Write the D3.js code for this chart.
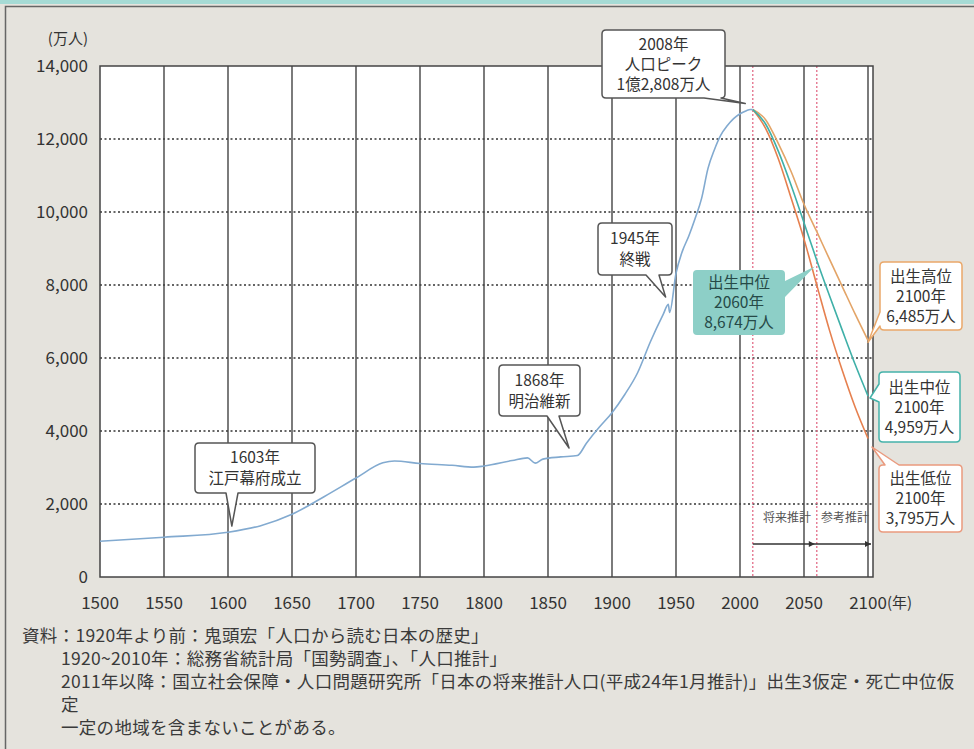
<!DOCTYPE html>
<html>
<head>
<meta charset="utf-8">
<script src="https://cdn.jsdelivr.net/npm/d3@7"></script>
<style>
  body { margin: 0; background: #e5e3dd; }
  svg { display: block; }
  text { font-family: "Noto Sans CJK JP", "Noto Sans", sans-serif; fill: #333; }
</style>
</head>
<body>
<div id="chart"></div>
<script>
// population (万人), historical
var histYears = [1500, 1550, 1600, 1625, 1650, 1675, 1700, 1721, 1730, 1750, 1775, 1792, 1800, 1822, 1834, 1840, 1846, 1860, 1873, 1880, 1890, 1900, 1910, 1920, 1930, 1940, 1944, 1945, 1950, 1955, 1960, 1965, 1970, 1975, 1980, 1985, 1990, 1995, 2000, 2005, 2008, 2010];
var histPop = [980, 1090, 1227, 1400, 1718, 2200, 2712, 3128, 3180, 3110, 3060, 3010, 3040, 3190, 3263, 3120, 3230, 3290, 3330, 3665, 4100, 4500, 5000, 5596, 6445, 7193, 7470, 7250, 8320, 8928, 9342, 9828, 10372, 11194, 11706, 12105, 12361, 12557, 12693, 12777, 12808, 12806];

// projections (万人)
var projYears = [2010, 2020, 2030, 2040, 2050, 2060, 2070, 2080, 2090, 2100];
var projHigh = [12806, 12530, 11872, 11104, 10213, 9460, 8700, 7950, 7200, 6485];
var projMid = [12806, 12410, 11662, 10728, 9708, 8674, 7700, 6750, 5820, 4959];
var projLow = [12806, 12290, 11450, 10376, 9257, 7997, 6750, 5650, 4650, 3795];

var xTicks = [1500, 1550, 1600, 1650, 1700, 1750, 1800, 1850, 1900, 1950, 2000, 2050, 2100];
var yTicks = [0, 2000, 4000, 6000, 8000, 10000, 12000, 14000];
var markYears = [2010, 2060];

var notes = [
  '資料：1920年より前：鬼頭宏「人口から読む日本の歴史」',
  '1920~2010年：総務省統計局「国勢調査」、「人口推計」',
  '2011年以降：国立社会保障・人口問題研究所「日本の将来推計人口(平成24年1月推計)」出生3仮定・死亡中位仮',
  '定',
  '一定の地域を含まないことがある。'
];

var svgWidth = 974;
var svgHeight = 749;

var svg = d3.select('#chart')
    .append('svg')
    .attr('width', svgWidth)
    .attr('height', svgHeight);

// frame
svg.append('rect').attr('x', 0).attr('y', 0).attr('width', svgWidth).attr('height', 4).attr('fill', '#a6dbd5');
svg.append('path')
    .attr('d', 'M5.5,' + svgHeight + ' V6.5 H' + svgWidth)
    .attr('fill', 'none').attr('stroke', '#666').attr('stroke-width', 1.5);

var x = d3.scaleLinear().domain([1500, 2100]).range([100, 868]);
var y = d3.scaleLinear().domain([0, 14000]).range([577, 66]);
var plotRight = 873;

// plot background
svg.append('rect')
    .attr('x', 100).attr('y', 66)
    .attr('width', plotRight - 100).attr('height', 577 - 66)
    .attr('fill', '#fff');

// horizontal dotted grid
svg.append('g').selectAll('line')
    .data(yTicks.filter(d => d > 0 && d < 14000))
    .enter().append('line')
    .attr('x1', 100).attr('x2', plotRight)
    .attr('y1', d => y(d)).attr('y2', d => y(d))
    .attr('stroke', '#333').attr('stroke-width', 1.3)
    .attr('stroke-dasharray', '2,2.5');

// vertical grid
svg.append('g').selectAll('line')
    .data(xTicks.filter(d => d > 1500))
    .enter().append('line')
    .attr('x1', d => x(d)).attr('x2', d => x(d))
    .attr('y1', 66).attr('y2', 577)
    .attr('stroke', '#444').attr('stroke-width', 1.4);

// red dotted projection markers
svg.append('g').selectAll('line')
    .data(markYears)
    .enter().append('line')
    .attr('x1', d => x(d)).attr('x2', d => x(d))
    .attr('y1', 66).attr('y2', 577)
    .attr('stroke', '#e0607e').attr('stroke-width', 1.2)
    .attr('stroke-dasharray', '2,2');

// plot border
svg.append('rect')
    .attr('x', 100).attr('y', 66)
    .attr('width', plotRight - 100).attr('height', 577 - 66)
    .attr('fill', 'none').attr('stroke', '#444').attr('stroke-width', 1.5);

// axes labels
svg.append('g').selectAll('text')
    .data(yTicks)
    .enter().append('text')
    .attr('x', 88).attr('y', d => y(d) + 6)
    .attr('text-anchor', 'end')
    .style('font-size', '17px')
    .text(d => d3.format(',')(d));

svg.append('text').attr('x', 88).attr('y', 44).attr('text-anchor', 'end')
    .style('font-size', '15px').text('(万人)');

svg.append('g').selectAll('text')
    .data(xTicks)
    .enter().append('text')
    .attr('x', d => x(d)).attr('y', 609)
    .attr('text-anchor', 'middle')
    .style('font-size', '17px')
    .text(d => d);

svg.append('text').attr('x', 887).attr('y', 608)
    .style('font-size', '15px').text('(年)');

// lines
var line = d3.line()
    .x(d => x(d[0]))
    .y(d => y(d[1]))
    .curve(d3.curveMonotoneX);

var series = [
  { years: projYears, vals: projLow, color: '#e6804f' },
  { years: projYears, vals: projHigh, color: '#e3a467' },
  { years: projYears, vals: projMid, color: '#3fb0a8' },
  { years: histYears, vals: histPop, color: '#82aad0' }
];

series.forEach(function(s) {
    svg.append('path')
        .datum(s.years.map((yr, i) => [yr, s.vals[i]]))
        .attr('d', line)
        .attr('fill', 'none')
        .attr('stroke', s.color)
        .attr('stroke-width', 1.6);
});

// projection span arrows
var arrowY = 544;
svg.append('line')
    .attr('x1', x(2010)).attr('x2', plotRight - 2)
    .attr('y1', arrowY).attr('y2', arrowY)
    .attr('stroke', '#333').attr('stroke-width', 1.3);
[x(2060) - 2, plotRight - 2].forEach(function(px) {
    svg.append('path')
        .attr('d', 'M' + (px - 6) + ',' + (arrowY - 3) + ' L' + px + ',' + arrowY + ' L' + (px - 6) + ',' + (arrowY + 3) + 'Z')
        .attr('fill', '#333');
});
svg.append('text').attr('x', 787).attr('y', 522).attr('text-anchor', 'middle')
    .style('font-size', '12px').style('fill', '#555').text('将来推計');
svg.append('text').attr('x', 845).attr('y', 522).attr('text-anchor', 'middle')
    .style('font-size', '12px').style('fill', '#555').text('参考推計');

// callouts
function callout(o) {
    var bx = o.x, by = o.y, w = o.w, h = o.h, r = 4;
    var p = o.ptr;
    var d = 'M' + (bx + r) + ',' + by;
    if (p.side === 'top') d += ' H' + p.a + ' L' + p.tx + ',' + p.ty + ' L' + p.b + ',' + by;
    d += ' H' + (bx + w - r) + ' Q' + (bx + w) + ',' + by + ' ' + (bx + w) + ',' + (by + r);
    if (p.side === 'right') d += ' V' + p.a + ' L' + p.tx + ',' + p.ty + ' L' + (bx + w) + ',' + p.b;
    d += ' V' + (by + h - r) + ' Q' + (bx + w) + ',' + (by + h) + ' ' + (bx + w - r) + ',' + (by + h);
    if (p.side === 'bottom') d += ' H' + p.b + ' L' + p.tx + ',' + p.ty + ' L' + p.a + ',' + (by + h);
    d += ' H' + (bx + r) + ' Q' + bx + ',' + (by + h) + ' ' + bx + ',' + (by + h - r);
    if (p.side === 'left') d += ' V' + p.b + ' L' + p.tx + ',' + p.ty + ' L' + bx + ',' + p.a;
    d += ' V' + (by + r) + ' Q' + bx + ',' + by + ' ' + (bx + r) + ',' + by + 'Z';
    svg.append('path')
        .attr('d', d)
        .attr('fill', o.fill || '#fff')
        .attr('stroke', o.stroke || 'none')
        .attr('stroke-width', 1.5)
        .attr('stroke-linejoin', 'round');
    var lh = o.lh || 20;
    var top = by + h / 2 - (o.lines.length - 1) * lh / 2 + 5.5;
    o.lines.forEach(function(t, i) {
        svg.append('text')
            .attr('x', bx + w / 2).attr('y', top + i * lh)
            .attr('text-anchor', 'middle')
            .style('font-size', (o.fs || 15.5) + 'px')
            .style('fill', o.color || '#333')
            .text(t);
    });
}

callout({ x: 602, y: 30, w: 123, h: 68, stroke: '#555', lines: ['2008年', '人口ピーク', '1億2,808万人'],
    ptr: { side: 'bottom', a: 704, b: 721, tx: x(2008) - 5, ty: y(12808) - 6 } });
callout({ x: 598, y: 223, w: 74, h: 52, stroke: '#555', lines: ['1945年', '終戦'], lh: 21,
    ptr: { side: 'bottom', a: 646, b: 659, tx: x(1945) - 4, ty: 297 } });
callout({ x: 499, y: 365, w: 81, h: 51, stroke: '#555', lines: ['1868年', '明治維新'], lh: 21,
    ptr: { side: 'bottom', a: 547, b: 559, tx: x(1868) - 2, ty: 448 } });
callout({ x: 195, y: 443, w: 120, h: 50, stroke: '#555', lines: ['1603年', '江戸幕府成立'], lh: 21,
    ptr: { side: 'bottom', a: 226, b: 238, tx: x(1603), ty: 526 } });
callout({ x: 693, y: 270, w: 92, h: 65, fill: '#8dcfc7', color: '#264a47', lines: ['出生中位', '2060年', '8,674万人'],
    ptr: { side: 'right', a: 281, b: 297, tx: x(2060) - 2, ty: y(8674) + 6 } });
callout({ x: 880, y: 262, w: 82, h: 68, stroke: '#eaa86a', lines: ['出生高位', '2100年', '6,485万人'],
    ptr: { side: 'left', a: 312, b: 326, tx: x(2100), ty: y(6485) + 2 } });
callout({ x: 879, y: 372, w: 81, h: 70, stroke: '#45b3aa', lines: ['出生中位', '2100年', '4,959万人'],
    ptr: { side: 'left', a: 384, b: 402, tx: x(2100) + 2, ty: y(4959) + 2 } });
callout({ x: 879, y: 465, w: 83, h: 67, stroke: '#ea9a7e', lines: ['出生低位', '2100年', '3,795万人'],
    ptr: { side: 'top', a: 885, b: 899, tx: x(2100) + 4, ty: 447 } });

// source notes
svg.append('g').selectAll('text')
    .data(notes)
    .enter().append('text')
    .attr('x', (d, i) => i === 0 ? 22 : 61)
    .attr('y', (d, i) => 642 + i * 23)
    .style('font-size', '17.5px')
    .style('letter-spacing', '0.3px')
    .style('fill', '#3a3a3a')
    .text(d => d);
</script>
</body>
</html>
